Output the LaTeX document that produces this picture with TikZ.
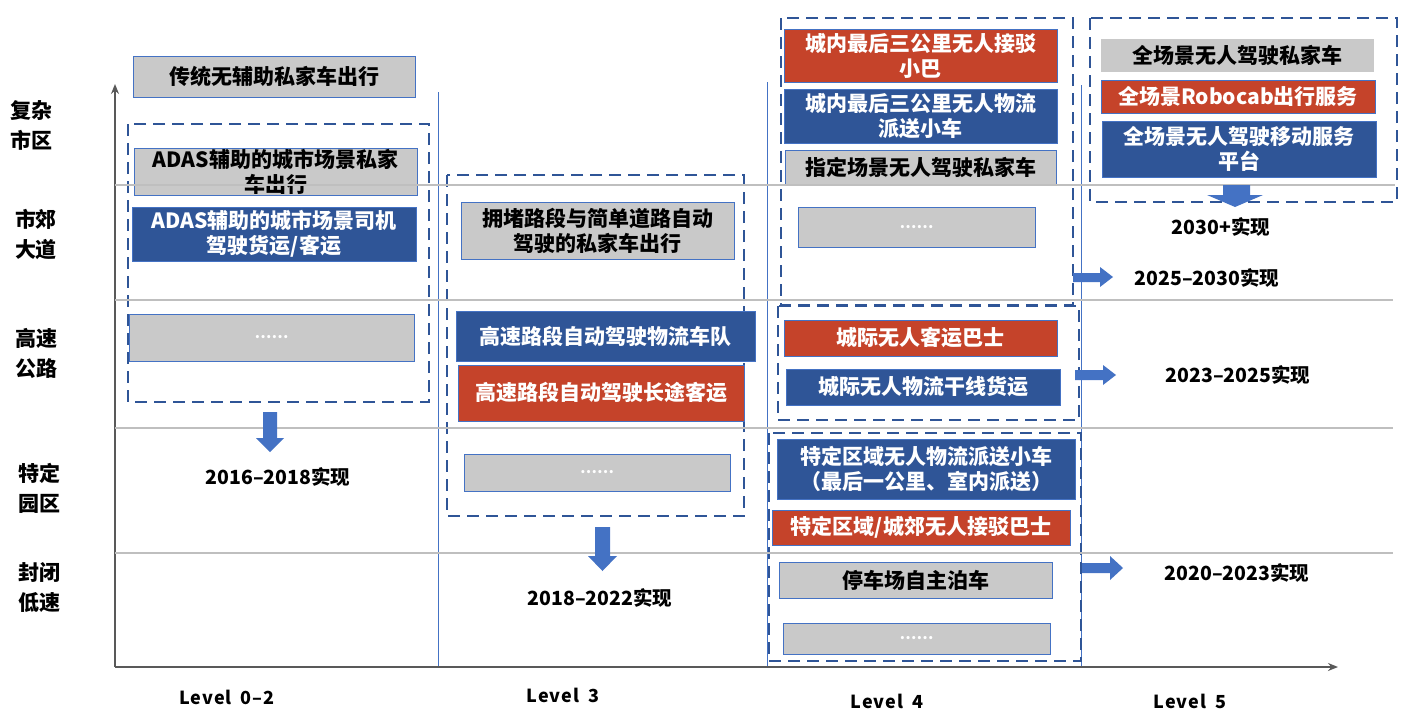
\documentclass[tikz,border=0pt]{standalone}
\usepackage{fontspec}
\setmainfont{Noto Sans CJK SC}
\newfontfamily\lvlfont{Noto Sans CJK SC}[LetterSpace=6]
\usetikzlibrary{arrows.meta}

\definecolor{boxblue}{HTML}{2F5597}
\definecolor{boxred}{HTML}{C5432A}
\definecolor{boxgray}{HTML}{C9C9C9}
\definecolor{lineblue}{HTML}{4472C4}
\definecolor{gridgray}{HTML}{BFBFBF}
\definecolor{axisgray}{HTML}{595959}

\begin{document}
\begin{tikzpicture}[
  x=1pt, y=-1pt,
  every node/.style={font=\bfseries\fontsize{21}{25}\selectfont, inner sep=0pt},
  gbox/.style={rectangle, draw=lineblue, line width=1pt, fill=boxgray, text=black, align=center},
  bbox/.style={gbox, fill=boxblue, text=white},
  rbox/.style={gbox, fill=boxred, text=white},
  dotsbox/.style={gbox, text=white, font=\bfseries\fontsize{15}{15}\selectfont},
  grp/.style={draw=boxblue, line width=2pt, dash pattern=on 12pt off 7pt},
  gridline/.style={draw=gridgray, line width=1.5pt},
  lvline/.style={draw=lineblue, line width=1pt},
  axis/.style={draw=axisgray, line width=1.5pt, -{Stealth[length=10pt,width=8pt]}},
  blockarr/.style={fill=lineblue},
  yearlbl/.style={font=\bfseries\fontsize{19.5}{22}\selectfont},
  rowlbl/.style={font=\bfseries\fontsize{21}{30}\selectfont, align=center},
  lvllbl/.style={font=\lvlfont\bfseries\fontsize{18}{20}\selectfont}
]
  \useasboundingbox (0,0) rectangle (1408,715);

  % Level-Trennlinien und Achsen
  \draw[lvline] (438,92) -- (438,668);
  \draw[lvline] (767,82) -- (767,668);
  \draw[lvline] (1081,85) -- (1081,668);
  \draw[axis] (115,667) -- (115,84);
  \draw[axis] (115,667) -- (1338,667);

  % Szenarien (y-Achse)
  \node[rowlbl] (rowCity) at (31,125) {复杂\\市区};
  \node[rowlbl] (rowSub) at (36,235) {市郊\\大道};
  \node[rowlbl] (rowHwy) at (37,353) {高速\\公路};
  \node[rowlbl] (rowPark) at (39,488) {特定\\园区};
  \node[rowlbl] (rowLow) at (39,588) {封闭\\低速};

  % Level 0-2
  \node[gbox, minimum width=282, minimum height=41] (trad) at (274,76.5) {传统无辅助私家车出行};
  \draw[grp] (128,124) rectangle (429,402);
  \node[gbox, minimum width=283, minimum height=47] (adasCar) at (275.5,171.5) {ADAS辅助的城市场景私家\\车出行};
  \node[bbox, minimum width=284, minimum height=54] (adasFreight) at (274,234) {ADAS辅助的城市场景司机\\驾驶货运/客运};
  \node[dotsbox, minimum width=285, minimum height=47] (lzMore) at (271.5,337.5) {……};

  % Level 3
  \draw[grp] (447,175) rectangle (744,516);
  \node[gbox, minimum width=273, minimum height=57] (jamCar) at (597.5,230.5) {拥堵路段与简单道路自动\\驾驶的私家车出行};
  \node[bbox, minimum width=299, minimum height=50] (hwyTruck) at (605.5,336) {高速路段自动驾驶物流车队};
  \node[rbox, minimum width=286, minimum height=56] (hwyBus) at (601,393) {高速路段自动驾驶长途客运};
  \node[dotsbox, minimum width=266, minimum height=37] (lthMore) at (597,472.5) {……};

  % Level 4
  \draw[grp] (781,18) rectangle (1073,305);
  \node[rbox, minimum width=273, minimum height=53] (cityBus) at (920.5,55.5) {城内最后三公里无人接驳\\小巴};
  \node[bbox, minimum width=273, minimum height=54] (cityDeliv) at (920.5,116) {城内最后三公里无人物流\\派送小车};
  \node[gbox, minimum width=271, minimum height=35] (sceneCar) at (920.5,167.5) {指定场景无人驾驶私家车};
  \node[dotsbox, minimum width=237, minimum height=40] (lfMoreA) at (916.5,227) {……};

  \draw[grp] (778,306) rectangle (1079,420);
  \node[rbox, minimum width=273, minimum height=36] (icBus) at (920.5,338) {城际无人客运巴士};
  \node[bbox, minimum width=274, minimum height=36] (icFreight) at (923,387) {城际无人物流干线货运};

  \draw[grp] (769,433) rectangle (1081,661);
  \node[bbox, minimum width=298, minimum height=60] (zoneDeliv) at (926,469) {特定区域无人物流派送小车\\（最后一公里、室内派送）};
  \node[rbox, minimum width=298, minimum height=35] (zoneBus) at (921,527.5) {特定区域/城郊无人接驳巴士};
  \node[gbox, minimum width=273, minimum height=36] (valet) at (915.5,580) {停车场自主泊车};
  \node[dotsbox, minimum width=267, minimum height=31] (lfMoreB) at (916.5,638.5) {……};

  % Level 5
  \draw[grp] (1090,18) rectangle (1397,202);
  \node[gbox, draw=none, minimum width=273, minimum height=33] (allCar) at (1237.5,55.5) {全场景无人驾驶私家车};
  \node[rbox, minimum width=274, minimum height=33] (robocab) at (1238,96.5) {全场景Robocab出行服务};
  \node[bbox, minimum width=274, minimum height=56] (platform) at (1239,149) {全场景无人驾驶移动服务\\平台};

  % Szenario-Linien
  \draw[gridline] (115,185) -- (1395,185);
  \draw[gridline] (115,300) -- (1393,300);
  \draw[gridline] (115,428) -- (1393,428);
  \draw[gridline] (115,553) -- (1393,553);

  % Blockpfeile
  \fill[blockarr] (263,412) -- (277,412) -- (277,438) -- (284,438) -- (270,452) -- (256,438) -- (263,438) -- cycle;
  \fill[blockarr] (595,527) -- (610,527) -- (610,556) -- (617,556) -- (602.5,571) -- (588,556) -- (595,556) -- cycle;
  \fill[blockarr] (1223,185) -- (1250,185) -- (1250,195) -- (1263,195) -- (1235,207) -- (1207,195) -- (1223,195) -- cycle;
  \fill[blockarr] (1073,273) -- (1100,273) -- (1100,267) -- (1113,277) -- (1100,287) -- (1100,282) -- (1073,282) -- cycle;
  \fill[blockarr] (1075,370) -- (1103,370) -- (1103,365) -- (1116,375) -- (1103,385) -- (1103,380) -- (1075,380) -- cycle;
  \fill[blockarr] (1082,563) -- (1110,563) -- (1110,556) -- (1123,568) -- (1110,580) -- (1110,573) -- (1082,573) -- cycle;

  % Zeitraeume
  \node[yearlbl] (yrA) at (278,477) {2016–2018实现};
  \node[yearlbl] (yrB) at (600,598) {2018–2022实现};
  \node[yearlbl] (yrC) at (1221,227) {2030+实现};
  \node[yearlbl] (yrD) at (1207,278) {2025–2030实现};
  \node[yearlbl] (yrE) at (1238,375) {2023–2025实现};
  \node[yearlbl] (yrF) at (1237,573) {2020–2023实现};

  % Level-Beschriftung
  \node[lvllbl] (lvA) at (227,697) {Level\hspace{9pt}0–2};
  \node[lvllbl] (lvB) at (563,695) {Level\hspace{9pt}3};
  \node[lvllbl] (lvC) at (887,701) {Level\hspace{9pt}4};
  \node[lvllbl] (lvD) at (1190,701) {Level\hspace{9pt}5};
\end{tikzpicture}
\end{document}
